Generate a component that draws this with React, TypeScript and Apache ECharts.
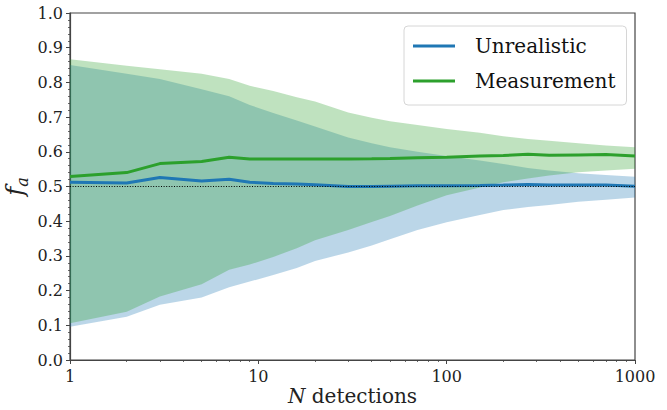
import React, { useEffect, useRef } from "react";
import * as echarts from "echarts";

// Number of detections (x, log scale)
const detections = [1, 2, 3, 5, 7, 9, 12, 16, 20, 30, 40, 50, 70, 100, 150, 200, 270, 350, 500, 700, 1000];

// "Unrealistic" series: median and band
const unrealisticMean = [0.512, 0.510, 0.526, 0.516, 0.521, 0.512, 0.509, 0.507, 0.505, 0.500, 0.500, 0.501, 0.502, 0.502, 0.503, 0.504, 0.506, 0.504, 0.504, 0.504, 0.501];
const unrealisticLow = [0.096, 0.125, 0.159, 0.180, 0.210, 0.226, 0.245, 0.265, 0.285, 0.310, 0.330, 0.348, 0.375, 0.397, 0.418, 0.432, 0.441, 0.447, 0.456, 0.462, 0.468];
const unrealisticHigh = [0.850, 0.825, 0.810, 0.780, 0.760, 0.735, 0.712, 0.690, 0.673, 0.641, 0.625, 0.613, 0.600, 0.588, 0.575, 0.565, 0.553, 0.546, 0.538, 0.533, 0.528];

// "Measurement" series: median and band
const measurementMean = [0.529, 0.540, 0.566, 0.572, 0.584, 0.579, 0.579, 0.579, 0.579, 0.579, 0.580, 0.581, 0.583, 0.584, 0.588, 0.589, 0.593, 0.590, 0.591, 0.592, 0.588];
const measurementLow = [0.106, 0.139, 0.183, 0.218, 0.260, 0.275, 0.297, 0.322, 0.345, 0.375, 0.398, 0.415, 0.445, 0.475, 0.497, 0.512, 0.523, 0.532, 0.541, 0.546, 0.551];
const measurementHigh = [0.867, 0.848, 0.838, 0.825, 0.810, 0.790, 0.775, 0.757, 0.745, 0.713, 0.698, 0.688, 0.677, 0.666, 0.655, 0.645, 0.637, 0.632, 0.625, 0.618, 0.613];

// Reference level and axis ticks
const referenceLevel = 0.5;
const xRange = [1, 1000];
const xMinorTicks = [2, 3, 4, 5, 6, 7, 8, 9, 20, 30, 40, 50, 60, 70, 80, 90, 200, 300, 400, 500, 600, 700, 800, 900];
const yRange = [0, 1];
const yInterval = 0.1;

const seriesNames = ["Unrealistic", "Measurement"];

const BLUE = "#1f77b4";
const GREEN = "#2ca02c";
const FONT = "DejaVu Serif";
const AXIS = "#444";
const TEXT = "#222";

function bandRenderer(low: number[], high: number[], fill: string) {
  return (params: any, api: any) => {
    if (params.dataIndex !== 0) return null;
    const pts: number[][] = [];
    for (let i = 0; i < detections.length; i++) pts.push(api.coord([detections[i], high[i]]));
    for (let i = detections.length - 1; i >= 0; i--) pts.push(api.coord([detections[i], low[i]]));
    return { type: "polygon", shape: { points: pts }, style: { fill } };
  };
}

export default function App() {
  const ref = useRef<HTMLDivElement>(null);

  useEffect(() => {
    document.body.style.margin = "0";
    if (!ref.current) return;
    const chart = echarts.init(ref.current, undefined, { renderer: "svg" });

    const gridTop = 13;
    const gridBottom = 50;
    const gridHeight = 410 - gridTop - gridBottom;

    chart.setOption({
      animation: false,
      backgroundColor: "#fff",
      textStyle: { fontFamily: FONT },
      grid: {
        left: 70,
        right: 32,
        top: gridTop,
        bottom: gridBottom,
        containLabel: false,
        outerBoundsMode: "none",
        show: true,
        borderColor: AXIS,
        borderWidth: 1.2,
        backgroundColor: "transparent",
      },
      legend: {
        data: seriesNames,
        orient: "vertical",
        left: 404,
        top: 26,
        icon: "rect",
        itemWidth: 42,
        itemHeight: 3,
        itemGap: 11,
        padding: [8, 11, 12, 9],
        backgroundColor: "rgba(255,255,255,0.85)",
        borderColor: "#d6d6d6",
        borderWidth: 1,
        borderRadius: 4,
        textStyle: {
          fontFamily: FONT,
          fontSize: 20,
          lineHeight: 24,
          color: "#111",
          padding: [0, 0, 0, 15],
        },
      },
      xAxis: [
        {
          type: "log",
          logBase: 10,
          min: xRange[0],
          max: xRange[1],
          position: "bottom",
          axisLine: { show: true, lineStyle: { color: AXIS, width: 1.2 } },
          axisTick: { show: true, inside: false, length: 4, lineStyle: { color: AXIS, width: 1 } },
          axisLabel: {
            fontFamily: FONT,
            fontSize: 16,
            color: TEXT,
            margin: 8,
            formatter: (v: number) => String(Math.round(v)),
          },
          splitLine: { show: false },
          name: "{i|N} detections",
          nameLocation: "middle",
          nameGap: 26,
          nameMoveOverlap: false,
          nameTextStyle: {
            fontFamily: FONT,
            fontSize: 20,
            color: TEXT,
            rich: { i: { fontFamily: FONT, fontSize: 20, fontStyle: "italic", color: TEXT } },
          },
        },
        {
          type: "log",
          logBase: 10,
          min: xRange[0],
          max: xRange[1],
          position: "top",
          offset: -gridHeight,
          axisLine: { show: false },
          axisLabel: { show: false },
          splitLine: { show: false },
          axisTick: {
            show: true,
            inside: true,
            length: 2,
            customValues: xMinorTicks,
            lineStyle: { color: AXIS, width: 0.8 },
          },
        },
      ],
      yAxis: {
        type: "value",
        min: yRange[0],
        max: yRange[1],
        interval: yInterval,
        axisLine: { show: true, lineStyle: { color: AXIS, width: 1.2 } },
        axisTick: { show: true, inside: false, length: 4, lineStyle: { color: AXIS, width: 1 } },
        minorTick: { show: true, splitNumber: 5, length: 2, lineStyle: { color: AXIS, width: 0.8 } },
        axisLabel: {
          fontFamily: FONT,
          fontSize: 16,
          color: TEXT,
          margin: 7,
          formatter: (v: number) => v.toFixed(1),
        },
        splitLine: { show: false },
        name: "{f|f}{a|a}",
        nameLocation: "middle",
        nameRotate: 90,
        nameGap: 40,
        nameMoveOverlap: false,
        nameTextStyle: {
          fontFamily: FONT,
          rich: {
            f: { fontFamily: FONT, fontSize: 24, fontStyle: "italic", color: TEXT, lineHeight: 30, verticalAlign: "middle" },
            a: { fontFamily: FONT, fontSize: 16, fontStyle: "italic", color: TEXT, lineHeight: 16, verticalAlign: "bottom" },
          },
        },
      },
      series: [
        {
          type: "custom",
          name: "unrealisticBand",
          xAxisIndex: 0,
          z: 1,
          silent: true,
          renderItem: bandRenderer(unrealisticLow, unrealisticHigh, "rgba(31,119,180,0.3)"),
          encode: { x: 0, y: [1, 2] },
          data: detections.map((x, i) => [x, unrealisticLow[i], unrealisticHigh[i]]),
        },
        {
          type: "custom",
          name: "measurementBand",
          xAxisIndex: 0,
          z: 1,
          silent: true,
          renderItem: bandRenderer(measurementLow, measurementHigh, "rgba(44,160,44,0.3)"),
          encode: { x: 0, y: [1, 2] },
          data: detections.map((x, i) => [x, measurementLow[i], measurementHigh[i]]),
        },
        {
          type: "line",
          name: seriesNames[0],
          xAxisIndex: 0,
          z: 3,
          showSymbol: false,
          symbol: "none",
          color: BLUE,
          lineStyle: { color: BLUE, width: 3 },
          data: detections.map((x, i) => [x, unrealisticMean[i]]),
        },
        {
          type: "line",
          name: seriesNames[1],
          xAxisIndex: 0,
          z: 3,
          showSymbol: false,
          symbol: "none",
          color: GREEN,
          lineStyle: { color: GREEN, width: 3 },
          data: detections.map((x, i) => [x, measurementMean[i]]),
        },
        {
          type: "line",
          name: "reference",
          xAxisIndex: 0,
          z: 4,
          silent: true,
          showSymbol: false,
          symbol: "none",
          lineStyle: { color: "#000", width: 1, type: [1, 1.6] },
          data: [
            [xRange[0], referenceLevel],
            [xRange[1], referenceLevel],
          ],
        },
      ],
    });

    return () => chart.dispose();
  }, []);

  return <div ref={ref} style={{ position: "fixed", left: 0, top: 0, width: 667, height: 410 }} />;
}
